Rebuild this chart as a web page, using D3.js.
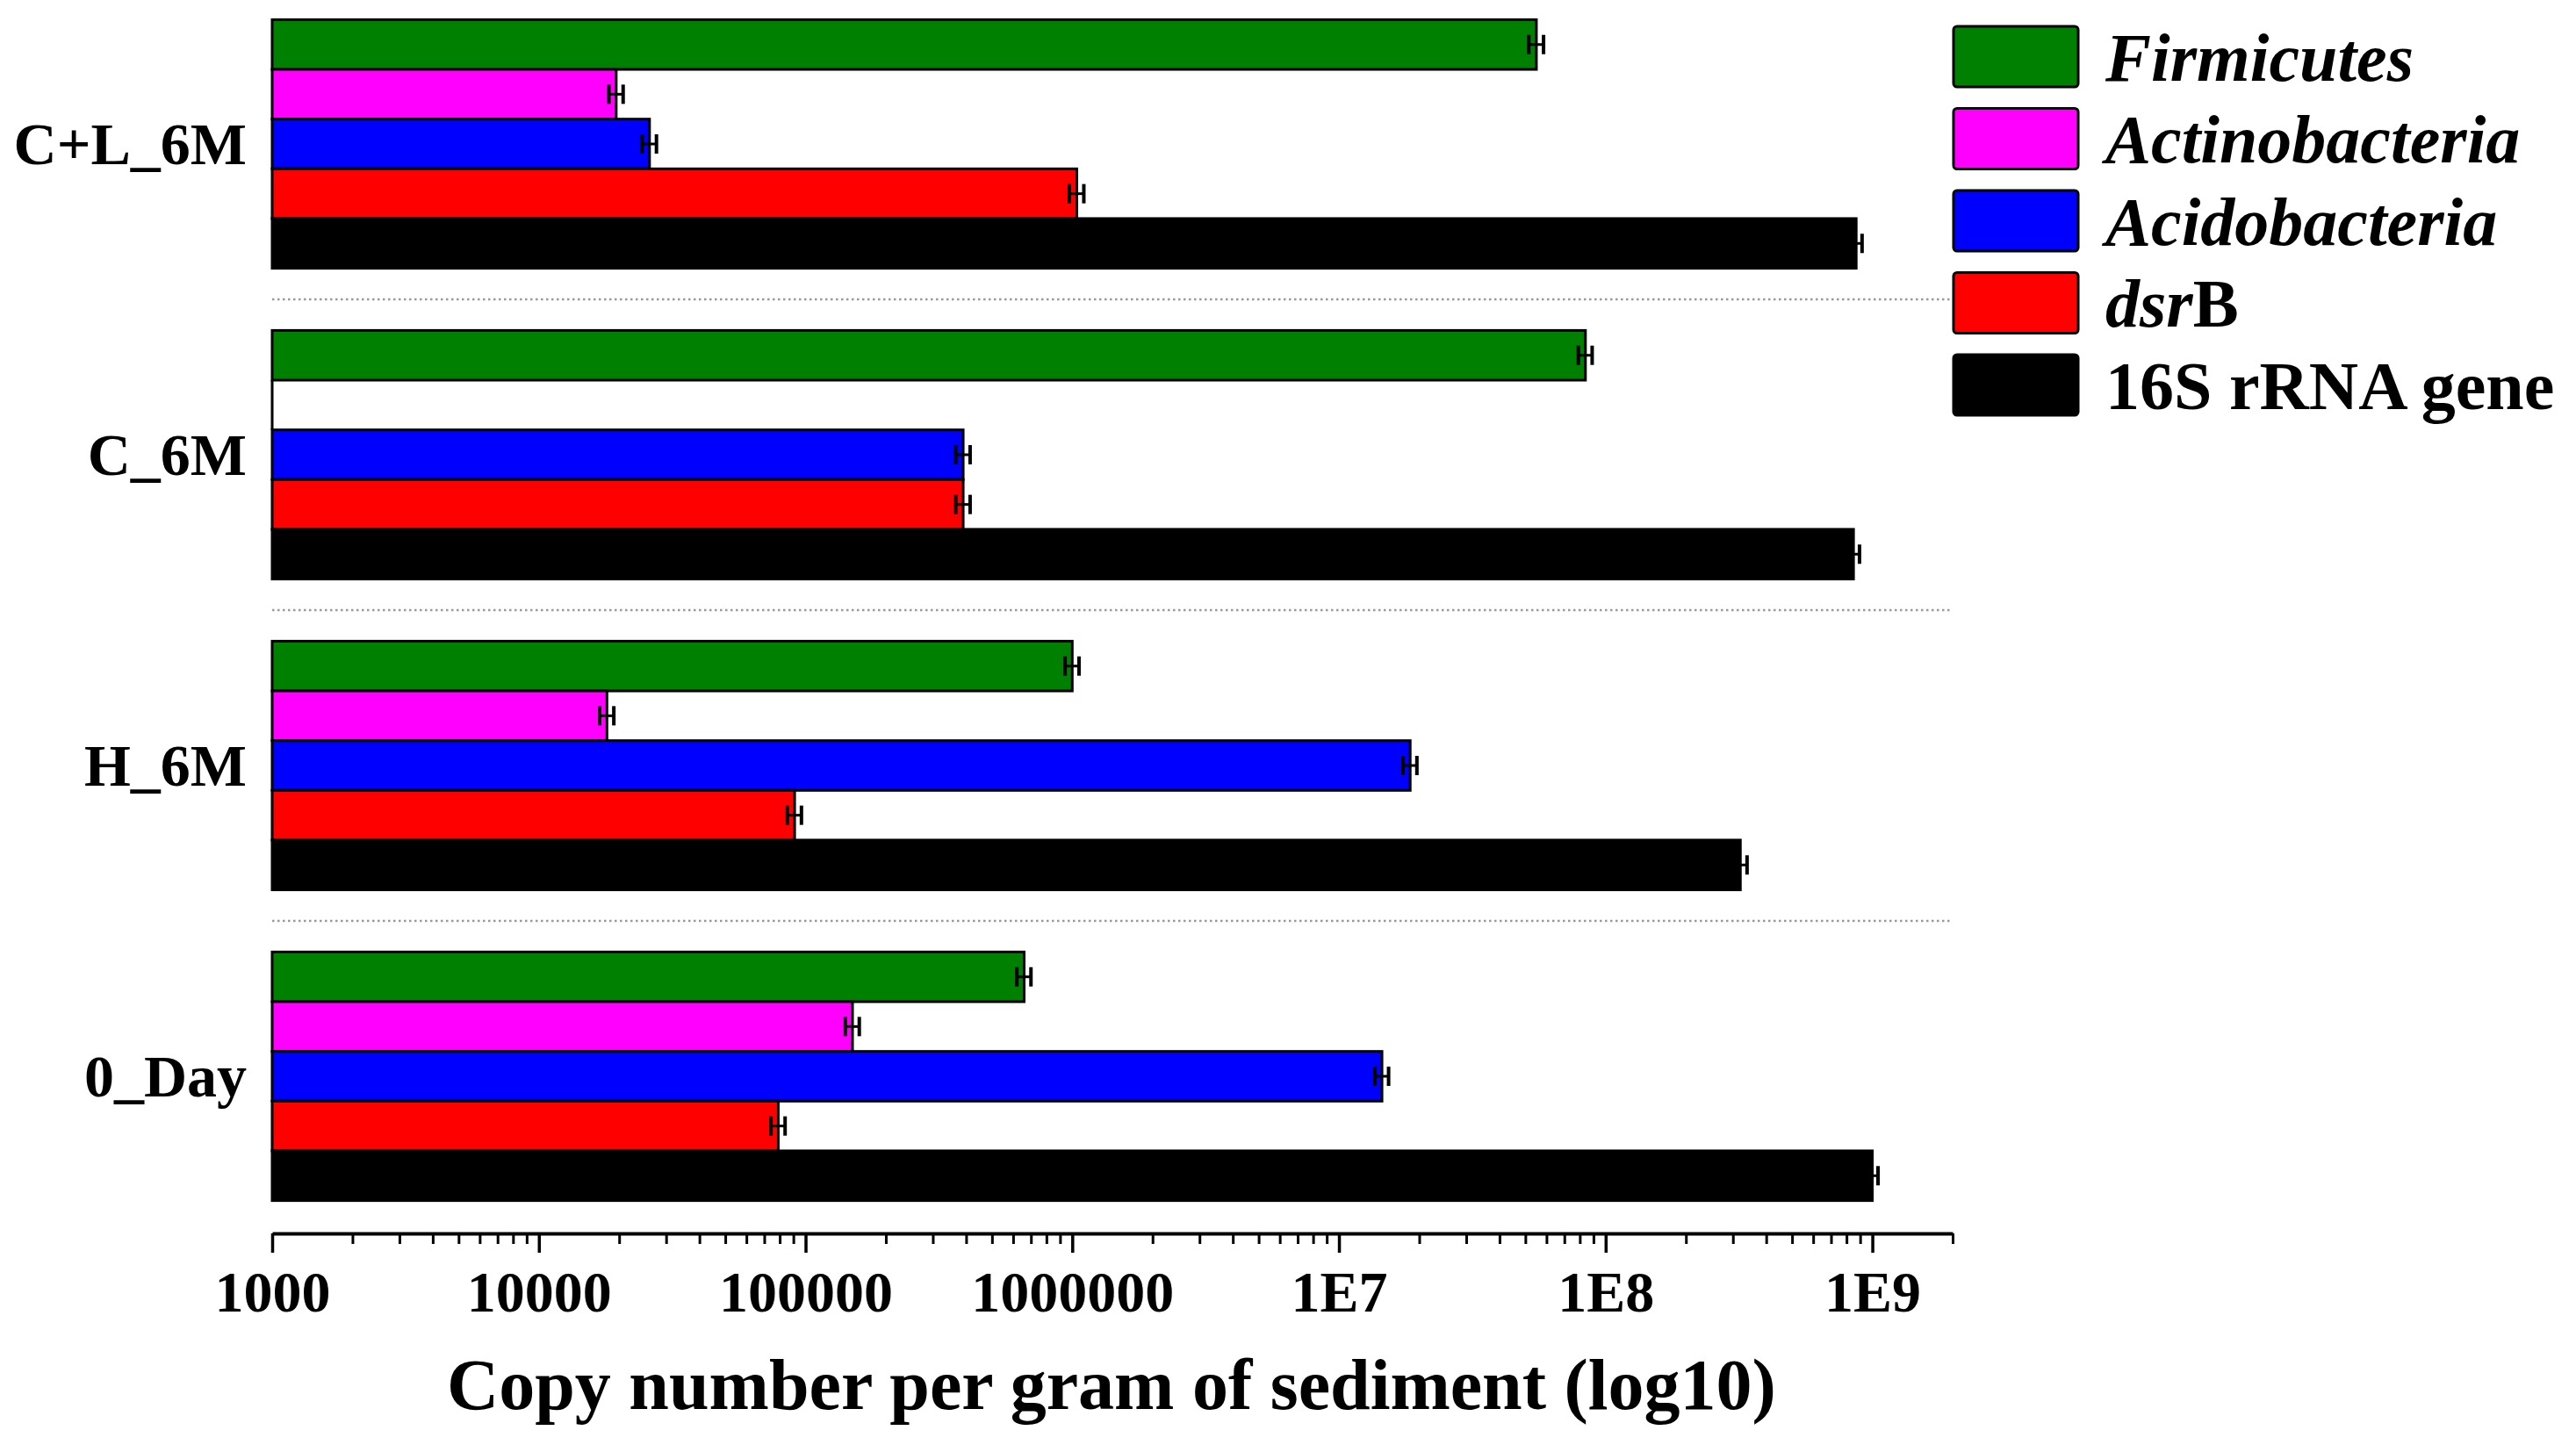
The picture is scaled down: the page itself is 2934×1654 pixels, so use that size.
<!DOCTYPE html>
<html lang="en">
<head>
  <meta charset="UTF-8" />
  <title>Copy number per gram of sediment</title>
  <script src="https://d3js.org/d3.v7.min.js"></script>
  <style>
    body {
      margin: 0;
      background: #fff;
    }
    svg {
      display: block;
      background: #fff;
      font-family: "Liberation Serif", "Times New Roman", serif;
      font-weight: bold;
    }
  </style>
</head>
<body>
  <svg id="chart" width="2934" height="1654"></svg>

  <script>
    // samples, top to bottom
    const categories = ["C+L_6M", "C_6M", "H_6M", "0_Day"];

    const seriesNames = ["Firmicutes", "Actinobacteria", "Acidobacteria", "dsrB", "16S rRNA gene"];
    const seriesColors = ["#008000", "#ff00ff", "#0000ff", "#ff0000", "#000000"];

    // copy numbers per gram, one value per sample (null = not detected)
    const firmicutes     = [5.5e7, 8.4e7, 1.0e6, 6.6e5];
    const actinobacteria = [1.95e4, null, 1.8e4, 1.5e5];
    const acidobacteria  = [2.6e4, 3.9e5, 1.85e7, 1.45e7];
    const dsrB           = [1.04e6, 3.9e5, 9.1e4, 7.9e4];
    const rRNA16S        = [8.7e8, 8.5e8, 3.2e8, 1.0e9];

    // error bars (same units)
    const firmicutesErr     = [3.5e6, 5.0e6, 6.0e4, 4.0e4];
    const actinobacteriaErr = [1.2e3, null, 1.1e3, 9.0e3];
    const acidobacteriaErr  = [1.6e3, 2.4e4, 1.1e6, 8.5e5];
    const dsrBErr           = [6.5e4, 2.4e4, 5.5e3, 4.8e3];
    const rRNA16SErr        = [4.5e7, 4.5e7, 1.9e7, 5.0e7];

    const tickValues = [1e3, 1e4, 1e5, 1e6, 1e7, 1e8, 1e9];
    const tickLabels = ["1000", "10000", "100000", "1000000", "1E7", "1E8", "1E9"];
    const xTitle = "Copy number per gram of sediment (log10)";

    const seriesValues = [firmicutes, actinobacteria, acidobacteria, dsrB, rRNA16S];
    const seriesErrors = [firmicutesErr, actinobacteriaErr, acidobacteriaErr, dsrBErr, rRNA16SErr];

    const rows = [];
    categories.forEach((cat, i) => {
      seriesNames.forEach((s, j) => {
        rows.push({ cat, series: s, color: seriesColors[j], value: seriesValues[j][i], err: seriesErrors[j][i] });
      });
    });

    const svg = d3.select("#chart");

    const x = d3.scaleLog().domain([1e3, 2e9]).range([310, 2224]);
    const y = d3.scaleBand().domain(categories).range([-13, 1403]).paddingInner(0.2).paddingOuter(0.1);
    const yInner = d3.scaleBand().domain(seriesNames).range([0, y.bandwidth()]);

    // dotted separators between groups
    const sepY = categories.slice(1).map(c => y(c) - y.step() * y.paddingInner() / 2);
    svg.append("g")
      .selectAll("line")
      .data(sepY)
      .join("line")
      .attr("x1", x.range()[0])
      .attr("x2", x.range()[1])
      .attr("y1", d => d)
      .attr("y2", d => d)
      .attr("stroke", "#9a9a9a")
      .attr("stroke-width", 2.5)
      .attr("stroke-dasharray", "2.5,3.5");

    // bars
    const barG = svg.append("g");
    barG.selectAll("rect")
      .data(rows.filter(d => d.value != null))
      .join("rect")
      .attr("x", x(1e3))
      .attr("y", d => y(d.cat) + yInner(d.series))
      .attr("width", d => x(d.value) - x(1e3))
      .attr("height", yInner.bandwidth())
      .attr("fill", d => d.color)
      .attr("stroke", "#000")
      .attr("stroke-width", 3);

    // missing bars keep only their left edge
    barG.selectAll("line")
      .data(rows.filter(d => d.value == null))
      .join("line")
      .attr("x1", x(1e3))
      .attr("x2", x(1e3))
      .attr("y1", d => y(d.cat) + yInner(d.series))
      .attr("y2", d => y(d.cat) + yInner(d.series) + yInner.bandwidth())
      .attr("stroke", "#000")
      .attr("stroke-width", 3);

    // error bars
    const errG = svg.append("g")
      .attr("stroke", "#000")
      .attr("stroke-width", 4)
      .selectAll("g")
      .data(rows.filter(d => d.value != null))
      .join("g")
      .attr("transform", d => `translate(0,${y(d.cat) + yInner(d.series) + yInner.bandwidth() / 2})`);
    errG.append("line")
      .attr("x1", d => x(d.value - d.err))
      .attr("x2", d => x(d.value + d.err))
      .attr("stroke-width", 3);
    errG.append("line")
      .attr("x1", d => x(d.value - d.err))
      .attr("x2", d => x(d.value - d.err))
      .attr("y1", -11).attr("y2", 11);
    errG.append("line")
      .attr("x1", d => x(d.value + d.err))
      .attr("x2", d => x(d.value + d.err))
      .attr("y1", -11).attr("y2", 11);

    // category labels
    svg.append("g")
      .selectAll("text")
      .data(categories)
      .join("text")
      .attr("x", 281)
      .attr("y", d => y(d) + y.bandwidth() / 2 + 23)
      .attr("text-anchor", "end")
      .attr("font-size", 68)
      .text(d => d);

    // x axis
    const minorTicks = [];
    for (let e = 3; e <= 9; e++) {
      for (let m = 2; m <= 9; m++) {
        const v = m * Math.pow(10, e);
        if (v <= 2e9) minorTicks.push(v);
      }
    }
    const axisG = svg.append("g").attr("transform", "translate(0,1405)");
    axisG.append("g")
      .call(d3.axisBottom(x).tickValues(minorTicks).tickSize(12).tickFormat(""))
      .call(g => g.select(".domain").remove())
      .selectAll("line").attr("stroke-width", 3);
    axisG.append("g")
      .call(d3.axisBottom(x).tickValues(tickValues).tickSize(22).tickSizeOuter(0)
        .tickFormat((d, i) => tickLabels[i]))
      .call(g => g.select(".domain").attr("stroke-width", 4))
      .call(g => g.selectAll(".tick line").attr("stroke-width", 3.5))
      .call(g => g.selectAll(".tick text")
        .attr("y", 89)
        .attr("dy", 0)
        .attr("fill", "#000")
        .attr("font-size", 66)
        .attr("font-family", "Liberation Serif, serif")
        .attr("font-weight", "bold"));

    svg.append("text")
      .attr("x", 1266)
      .attr("y", 1605)
      .attr("text-anchor", "middle")
      .attr("font-size", 82)
      .text(xTitle);

    // legend
    const legend = svg.append("g")
      .selectAll("g")
      .data(seriesNames)
      .join("g")
      .attr("transform", (d, i) => `translate(2225,${30 + i * 93.5})`);
    legend.append("rect")
      .attr("width", 142)
      .attr("height", 69)
      .attr("rx", 4)
      .attr("fill", (d, i) => seriesColors[i])
      .attr("stroke", "#000")
      .attr("stroke-width", 3);
    legend.append("text")
      .attr("x", 173)
      .attr("y", 34.5 + 27)
      .attr("font-size", 78)
      .each(function(d) {
        const t = d3.select(this);
        if (d === "dsrB") {
          t.append("tspan").attr("font-style", "italic").text("dsr");
          t.append("tspan").text("B");
        } else if (d === "16S rRNA gene") {
          t.text(d);
        } else {
          t.attr("font-style", "italic").text(d);
        }
      });
  </script>
</body>
</html>
